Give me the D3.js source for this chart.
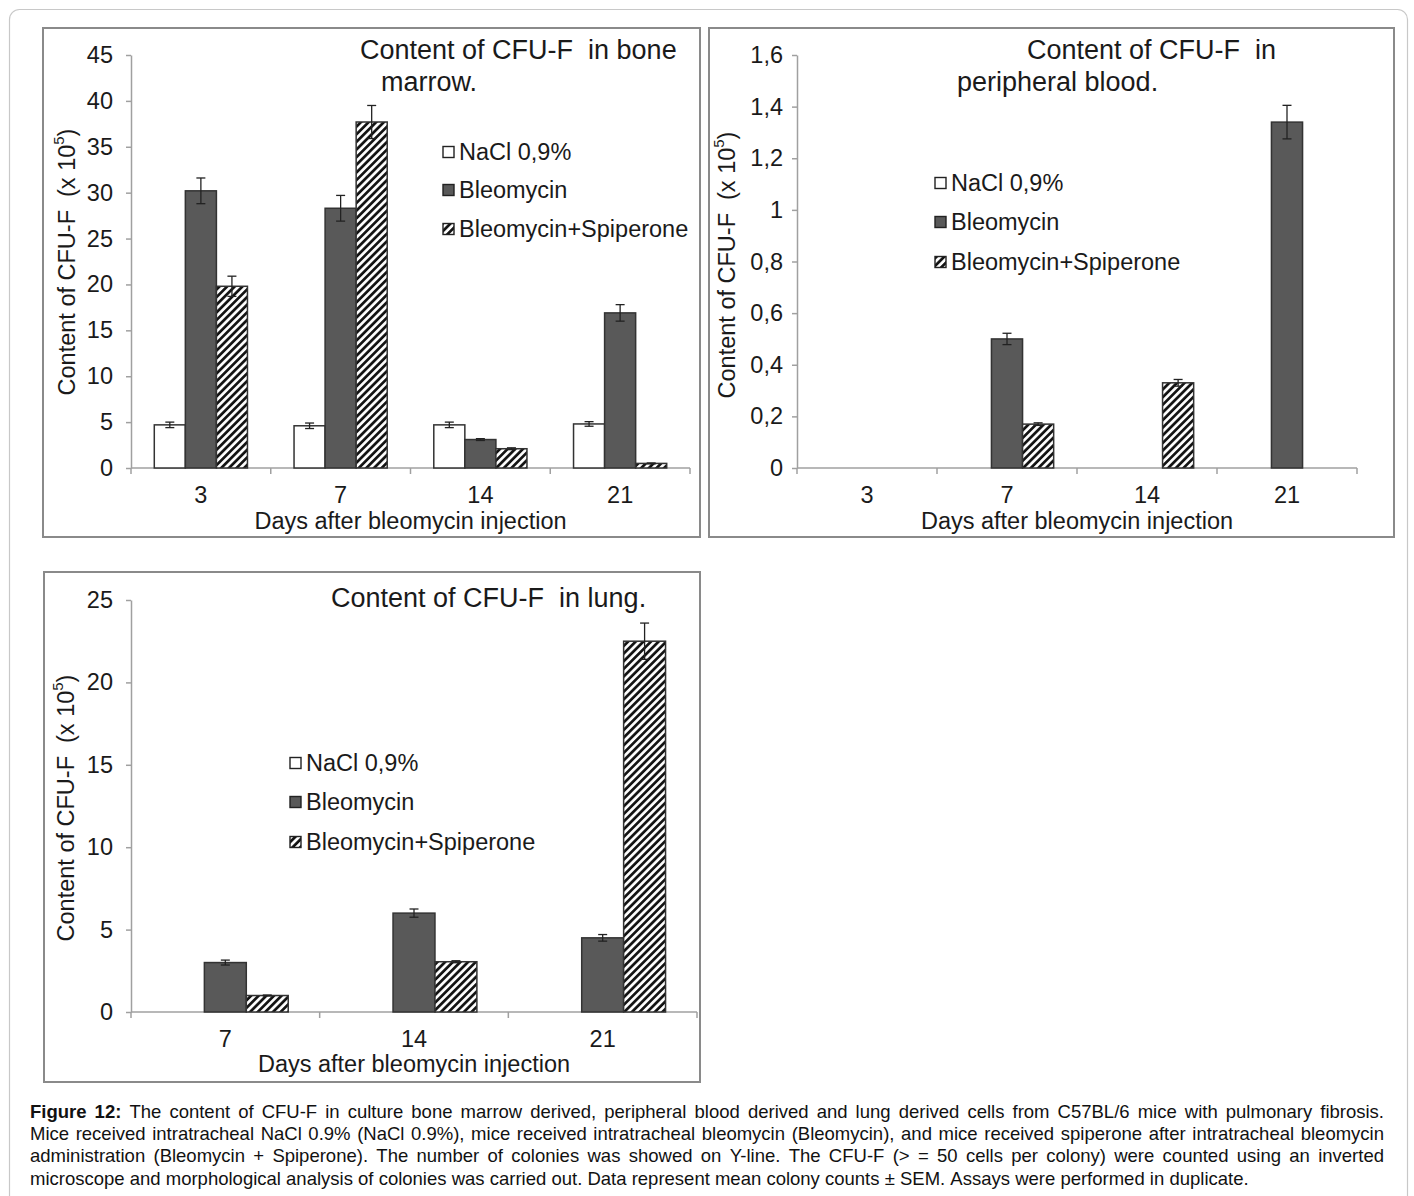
<!DOCTYPE html>
<html>
<head>
<meta charset="utf-8">
<script src="https://cdn.jsdelivr.net/npm/d3@7"></script>
<style>
  html, body { margin: 0; padding: 0; background: #fff; }
  svg { display: block; }
</style>
</head>
<body>
<script>
// ---------------- DATA ----------------
const seriesNames = ["NaCl 0,9%", "Bleomycin", "Bleomycin+Spiperone"];

// Panel 1: bone marrow
const boneDays = ["3", "7", "14", "21"];
const boneNaCl = [4.7, 4.6, 4.7, 4.8];
const boneNaClErr = [0.3, 0.3, 0.3, 0.25];
const boneBleo = [30.2, 28.3, 3.1, 16.9];
const boneBleoErr = [1.4, 1.4, 0.1, 0.9];
const boneSpip = [19.8, 37.7, 2.1, 0.5];
const boneSpipErr = [1.1, 1.8, 0.1, 0.05];
const boneTicks = [0, 5, 10, 15, 20, 25, 30, 35, 40, 45];
const boneTickLabels = ["0", "5", "10", "15", "20", "25", "30", "35", "40", "45"];

// Panel 2: peripheral blood
const bloodDays = ["3", "7", "14", "21"];
const bloodNaCl = [null, null, null, null];
const bloodNaClErr = [0, 0, 0, 0];
const bloodBleo = [null, 0.50, null, 1.34];
const bloodBleoErr = [0, 0.022, 0, 0.065];
const bloodSpip = [null, 0.17, 0.33, null];
const bloodSpipErr = [0, 0.005, 0.013, 0];
const bloodTicks = [0, 0.2, 0.4, 0.6, 0.8, 1.0, 1.2, 1.4, 1.6];
const bloodTickLabels = ["0", "0,2", "0,4", "0,6", "0,8", "1", "1,2", "1,4", "1,6"];

// Panel 3: lung
const lungDays = ["7", "14", "21"];
const lungNaCl = [null, null, null];
const lungNaClErr = [0, 0, 0];
const lungBleo = [3.0, 6.0, 4.5];
const lungBleoErr = [0.15, 0.25, 0.2];
const lungSpip = [1.0, 3.05, 22.5];
const lungSpipErr = [0.03, 0.06, 1.1];
const lungTicks = [0, 5, 10, 15, 20, 25];
const lungTickLabels = ["0", "5", "10", "15", "20", "25"];

const captionLines = [
  "Figure 12: The content of CFU-F in culture bone marrow derived, peripheral blood derived and lung derived cells from C57BL/6 mice with pulmonary fibrosis.",
  "Mice received intratracheal NaCl 0.9% (NaCl 0.9%), mice received intratracheal bleomycin (Bleomycin), and mice received spiperone after intratracheal bleomycin",
  "administration (Bleomycin + Spiperone). The number of colonies was showed on Y-line. The CFU-F (> = 50 cells per colony) were counted using an inverted",
  "microscope and morphological analysis of colonies was carried out. Data represent mean colony counts ± SEM. Assays were performed in duplicate."
];

// ---------------- DRAW ----------------
const FONT = "'Liberation Sans', Arial, sans-serif";
const TXT = "#1a1a1a";
const FS = 23.5;
const W = 1414, H = 1196;
const svg = d3.select("body").append("svg").attr("width", W).attr("height", H)
  .style("font-family", FONT);

const defs = svg.append("defs");
const P = 5.4;
const pat = defs.append("pattern").attr("id", "hatch")
  .attr("patternUnits", "userSpaceOnUse").attr("width", P).attr("height", P)
  .attr("patternTransform", "rotate(45)");
pat.append("rect").attr("width", P).attr("height", P).attr("fill", "#fff");
pat.append("line").attr("x1", 1.4).attr("y1", 0).attr("x2", 1.4).attr("y2", P)
  .attr("stroke", "#111").attr("stroke-width", 2.7);

// outer frame
svg.append("rect").attr("x", 9.5).attr("y", 9.5).attr("width", 1398).attr("height", 1230)
  .attr("rx", 10).attr("fill", "none").attr("stroke", "#c8c8c8").attr("stroke-width", 1.2);

const fills = ["#ffffff", "#595959", "url(#hatch)"];

function drawPanel(cfg) {
  const g = svg.append("g");
  g.append("rect").attr("x", cfg.frame[0]).attr("y", cfg.frame[1])
    .attr("width", cfg.frame[2]).attr("height", cfg.frame[3])
    .attr("fill", "#fff").attr("stroke", "#8a8a8a").attr("stroke-width", 2);

  const x = d3.scaleBand().domain(cfg.cats).range([cfg.x0, cfg.x1]).paddingInner(0).paddingOuter(0);
  const xs = d3.scaleBand().domain(seriesNames).range([0, x.bandwidth()]).paddingInner(0).paddingOuter(0.75);
  const y = d3.scaleLinear().domain(cfg.domain).range([cfg.yBot, cfg.yTop]);

  // y axis
  const yAxis = d3.axisLeft(y).tickValues(cfg.ticks)
    .tickFormat((d, i) => cfg.tickLabels[i]).tickSize(5).tickSizeOuter(0).tickPadding(cfg.tickPad);
  const ya = g.append("g").attr("transform", `translate(${cfg.x0},0)`).call(yAxis);
  ya.select(".domain").attr("stroke", "#a0a0a0").attr("stroke-width", 1.5);
  ya.selectAll(".tick line").attr("stroke", "#a0a0a0").attr("stroke-width", 1.5);
  ya.selectAll(".tick text").attr("font-size", FS).attr("fill", TXT).attr("font-family", FONT);

  // x axis line + boundary ticks
  const xb = [...cfg.cats.map(c => x(c)), cfg.x1];
  g.append("line").attr("x1", cfg.x0).attr("x2", cfg.x1).attr("y1", cfg.yBot).attr("y2", cfg.yBot)
    .attr("stroke", "#a0a0a0").attr("stroke-width", 1.5);
  g.selectAll(".xb").data(xb).join("line")
    .attr("x1", d => d).attr("x2", d => d).attr("y1", cfg.yBot).attr("y2", cfg.yBot + 6)
    .attr("stroke", "#a0a0a0").attr("stroke-width", 1.5);
  const xAxis = d3.axisBottom(x).tickSize(0).tickPadding(18);
  const xa = g.append("g").attr("transform", `translate(0,${cfg.yBot})`).call(xAxis);
  xa.select(".domain").remove();
  xa.selectAll(".tick text").attr("font-size", FS).attr("fill", TXT).attr("font-family", FONT);

  // bars
  cfg.series.forEach((s, si) => {
    const name = seriesNames[si];
    const data = cfg.cats.map((c, i) => ({ c, v: s.v[i], e: s.e[i] })).filter(d => d.v != null);
    g.selectAll(null).data(data).join("rect")
      .attr("x", d => x(d.c) + xs(name))
      .attr("y", d => y(d.v))
      .attr("width", xs.bandwidth())
      .attr("height", d => y(0) - y(d.v))
      .attr("fill", fills[si]).attr("stroke", "#333").attr("stroke-width", 1.5);
    const eg = g.selectAll(null).data(data).join("g")
      .attr("transform", d => `translate(${x(d.c) + xs(name) + xs.bandwidth() / 2},0)`);
    eg.append("line").attr("y1", d => y(d.v + d.e)).attr("y2", d => y(d.v - d.e))
      .attr("stroke", "#222").attr("stroke-width", 1.3);
    eg.append("line").attr("x1", -4.5).attr("x2", 4.5).attr("y1", d => y(d.v + d.e)).attr("y2", d => y(d.v + d.e))
      .attr("stroke", "#222").attr("stroke-width", 1.3);
    eg.append("line").attr("x1", -4.5).attr("x2", 4.5).attr("y1", d => y(d.v - d.e)).attr("y2", d => y(d.v - d.e))
      .attr("stroke", "#222").attr("stroke-width", 1.3);
  });

  // legend
  seriesNames.forEach((n, i) => {
    const ly = cfg.legend.ys[i];
    g.append("rect").attr("x", cfg.legend.x).attr("y", ly - 5.5).attr("width", 11).attr("height", 11)
      .attr("fill", fills[i]).attr("stroke", "#222").attr("stroke-width", 1.4);
    g.append("text").attr("x", cfg.legend.x + 16).attr("y", ly).attr("dominant-baseline", "central")
      .attr("font-size", FS).attr("fill", TXT).text(n);
  });

  // title
  cfg.title.forEach(t => {
    g.append("text").attr("x", t.x).attr("y", t.y).attr("dominant-baseline", "central")
      .attr("font-size", 27).attr("fill", TXT).attr("xml:space", "preserve").text(t.t);
  });

  // y label
  const yl = g.append("text").attr("transform", `translate(${cfg.ylab[0]},${cfg.ylab[1]}) rotate(-90)`)
    .attr("text-anchor", "middle").attr("dominant-baseline", "central")
    .attr("font-size", FS).attr("fill", TXT).attr("xml:space", "preserve");
  yl.append("tspan").text("Content of CFU-F  (x 10");
  yl.append("tspan").attr("font-size", 15).attr("dy", -9).text("5");
  yl.append("tspan").attr("dy", 9).text(")");

  // x title
  g.append("text").attr("x", (cfg.x0 + cfg.x1) / 2).attr("y", cfg.xtitleY)
    .attr("text-anchor", "middle").attr("dominant-baseline", "central")
    .attr("font-size", FS).attr("fill", TXT).text("Days after bleomycin injection");
}

drawPanel({
  frame: [43, 28, 657, 509], x0: 131, x1: 690, yTop: 55, yBot: 468,
  cats: boneDays, domain: [0, 45], ticks: boneTicks, tickLabels: boneTickLabels, tickPad: 13,
  series: [{ v: boneNaCl, e: boneNaClErr }, { v: boneBleo, e: boneBleoErr }, { v: boneSpip, e: boneSpipErr }],
  legend: { x: 443, ys: [152, 190, 229] },
  title: [{ t: "Content of CFU-F  in bone", x: 360, y: 50 }, { t: "marrow.", x: 381, y: 82 }],
  ylab: [67, 262], xtitleY: 521
});

drawPanel({
  frame: [709, 28, 685, 509], x0: 797, x1: 1357, yTop: 55, yBot: 468,
  cats: bloodDays, domain: [0, 1.6], ticks: bloodTicks, tickLabels: bloodTickLabels, tickPad: 9,
  series: [{ v: bloodNaCl, e: bloodNaClErr }, { v: bloodBleo, e: bloodBleoErr }, { v: bloodSpip, e: bloodSpipErr }],
  legend: { x: 935, ys: [183, 222, 262] },
  title: [{ t: "Content of CFU-F  in", x: 1027, y: 50 }, { t: "peripheral blood.", x: 957, y: 82 }],
  ylab: [727, 265], xtitleY: 521
});

drawPanel({
  frame: [44, 572, 656, 510], x0: 131, x1: 697, yTop: 600, yBot: 1012,
  cats: lungDays, domain: [0, 25], ticks: lungTicks, tickLabels: lungTickLabels, tickPad: 13,
  series: [{ v: lungNaCl, e: lungNaClErr }, { v: lungBleo, e: lungBleoErr }, { v: lungSpip, e: lungSpipErr }],
  legend: { x: 290, ys: [763, 802, 842] },
  title: [{ t: "Content of CFU-F  in lung.", x: 331, y: 598 }],
  ylab: [66, 808], xtitleY: 1064
});

// caption (justified)
const capBase = [1118, 1140, 1162, 1185];
const capX0 = 30, capX1 = 1384, capFS = 18.5;
captionLines.forEach((line, li) => {
  const words = line.split(" ");
  const els = words.map((w, wi) => {
    const bold = li === 0 && wi < 2;
    return svg.append("text").attr("y", capBase[li]).attr("font-size", capFS)
      .attr("font-weight", bold ? "bold" : "normal").attr("fill", "#111").text(w);
  });
  const widths = els.map(e => e.node().getComputedTextLength());
  const total = d3.sum(widths);
  const justify = li < captionLines.length - 1;
  const gap = justify ? (capX1 - capX0 - total) / (words.length - 1) : capFS * 0.278;
  let cx = capX0;
  els.forEach((e, i) => { e.attr("x", cx); cx += widths[i] + gap; });
});
</script>
</body>
</html>
